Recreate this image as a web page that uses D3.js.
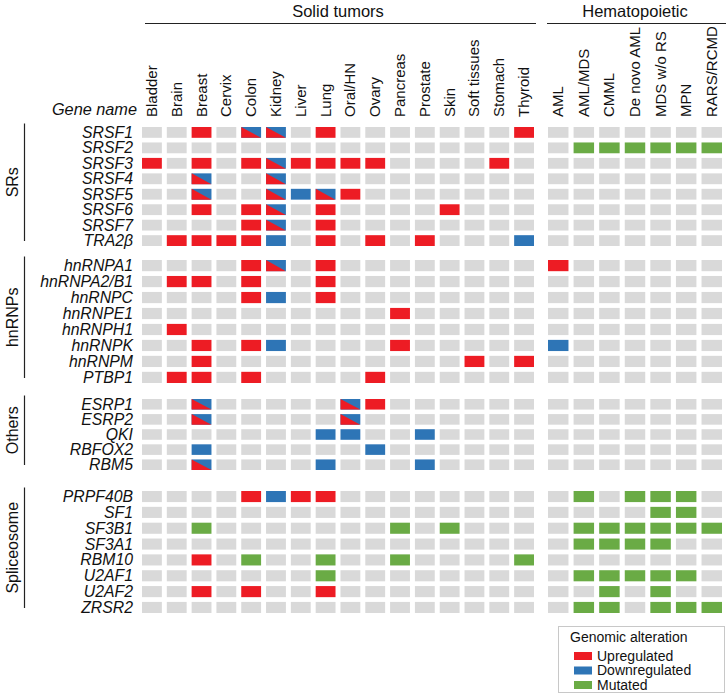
<!DOCTYPE html>
<html><head><meta charset="utf-8">
<script src="https://cdn.jsdelivr.net/npm/d3@7"></script>
<style>
html,body{margin:0;padding:0;background:#fff;}
svg{display:block;font-family:"Liberation Sans",Arial,sans-serif;}
</style></head>
<body><svg id="chart" width="728" height="697"></svg>
<script>
// ---------- DATA ----------
const solidTumors = ["Bladder","Brain","Breast","Cervix","Colon","Kidney","Liver","Lung","Oral/HN","Ovary","Pancreas","Prostate","Skin","Soft tissues","Stomach","Thyroid"];
const hemeTypes = ["AML","AML/MDS","CMML","De novo AML","MDS w/o RS","MPN","RARS/RCMD"];
const groupNames = ["SRs","hnRNPs","Others","Spliceosome"];
// codes: U = upregulated, D = downregulated, M = mutated, B = up & down, . = none
const srGenes  = ["SRSF1","SRSF2","SRSF3","SRSF4","SRSF5","SRSF6","SRSF7","TRA2\u03B2"];
const srSolid  = ["..U.BB.U.......U","................","U.U.UBUUUU....U.","..B..B..........","..B..BDBU.......","..U.UB.U....U...","....UB.U........",".UUUUD.U.U.U...D"];
const srHeme   = [".......",".MMMMMM",".......",".......",".......",".......",".......","......."];
const hnGenes  = ["hnRNPA1","hnRNPA2/B1","hnRNPC","hnRNPE1","hnRNPH1","hnRNPK","hnRNPM","PTBP1"];
const hnSolid  = ["....UB.U........",".UU.U..U........","....UD.U........","..........U.....",".U..............","..U.UD....U.....","..U..........U.U",".UU.U....U......"];
const hnHeme   = ["U......",".......",".......",".......",".......","D......",".......","......."];
const otGenes  = ["ESRP1","ESRP2","QKI","RBFOX2","RBM5"];
const otSolid  = ["..B.....BU......","..B.....B.......",".......DD..D....","..D......D......","..B....D...D...."];
const otHeme   = [".......",".......",".......",".......","......."];
const spGenes  = ["PRPF40B","SF1","SF3B1","SF3A1","RBM10","U2AF1","U2AF2","ZRSR2"];
const spSolid  = ["....UDUU........","................","..M.......M.M...","................","..U.M..M..M....M",".......M........","..U.U..U........","................"];
const spHeme   = [".M.MMM.","....MM.",".MMMMMM",".MMMM..",".......",".MMMMM.","..M.M..",".MM.MMM"];
const legendTitle = "Genomic alteration";
const legendLabels = ["Upregulated","Downregulated","Mutated"];
const legendCodes = ["U","D","M"];

// ---------- STYLE / LAYOUT ----------
const C = {gray:"#d9d9d9", U:"#ed1c24", D:"#2e75b6", M:"#6aab45"};
const groupGenes = [srGenes, hnGenes, otGenes, spGenes];
const groupSolid = [srSolid, hnSolid, otSolid, spSolid];
const groupHeme  = [srHeme, hnHeme, otHeme, spHeme];
const groupRanges = [[127,246],[260,383],[399,470],[491,613]];

const svg = d3.select("#chart");
const xSolid = d3.scaleBand().domain(solidTumors).range([142,534]).paddingInner(0.2).paddingOuter(0);
const xHeme  = d3.scaleBand().domain(hemeTypes).range([548,722]).paddingInner(0.2).paddingOuter(0);

// headers
const headers = [{t:"Solid tumors", s:xSolid, l:[145,536]},{t:"Hematopoietic", s:xHeme, l:[547,726]}];
headers.forEach(h=>{
  const r = h.s.range();
  svg.append("text").attr("x",(r[0]+r[1])/2).attr("y",17).attr("text-anchor","middle")
    .attr("font-size",16.5).attr("fill","#111").text(h.t);
  svg.append("line").attr("x1",h.l[0]).attr("x2",h.l[1]).attr("y1",23.5).attr("y2",23.5)
    .attr("stroke","#222").attr("stroke-width",1.2);
});

// column labels
function colLabels(scale){
  scale.domain().forEach(d=>{
    const cx = scale(d)+scale.bandwidth()/2 + 5;
    svg.append("text").attr("transform",`translate(${cx},117) rotate(-90)`)
      .attr("font-size",15).attr("fill","#111").text(d);
  });
}
colLabels(xSolid); colLabels(xHeme);

svg.append("text").attr("x",137).attr("y",115).attr("text-anchor","end")
  .attr("font-size",16.3).attr("font-style","italic").attr("fill","#111").text("Gene name");

function drawCell(x,y,w,h,code){
  if(code==="B"){
    svg.append("rect").attr("x",x).attr("y",y).attr("width",w).attr("height",h).attr("fill",C.D);
    svg.append("polygon").attr("points",`${x},${y} ${x+w},${y+h} ${x},${y+h}`).attr("fill",C.U);
  } else {
    svg.append("rect").attr("x",x).attr("y",y).attr("width",w).attr("height",h)
      .attr("fill", code==="." ? C.gray : C[code]);
  }
}

groupNames.forEach((g,gi)=>{
  const genes = groupGenes[gi];
  const [y0,y1] = groupRanges[gi];
  const y = d3.scaleBand().domain(genes).range([y0,y1]).paddingInner(0.3).paddingOuter(0);
  svg.append("line").attr("x1",24.5).attr("x2",24.5).attr("y1",y0-3.5).attr("y2",y1-5)
    .attr("stroke","#222").attr("stroke-width",1.2);
  const cy = (y0-3.5+y1-5)/2;
  svg.append("text").attr("transform",`translate(18,${cy}) rotate(-90)`).attr("text-anchor","middle")
    .attr("font-size",16).attr("fill","#111").text(g);
  genes.forEach((gene,ri)=>{
    const yy = y(gene), h = y.bandwidth();
    svg.append("text").attr("x",133).attr("y",yy+h/2+5.5).attr("text-anchor","end")
      .attr("font-size",15.8).attr("font-style","italic").attr("fill","#111").text(gene);
    solidTumors.forEach((t,ci)=>drawCell(xSolid(t),yy,xSolid.bandwidth(),h,groupSolid[gi][ri][ci]));
    hemeTypes.forEach((t,ci)=>drawCell(xHeme(t),yy,xHeme.bandwidth(),h,groupHeme[gi][ri][ci]));
  });
});

// legend
const lg = svg.append("g");
lg.append("rect").attr("x",558.5).attr("y",626.5).attr("width",166).attr("height",66)
  .attr("fill","#fff").attr("stroke","#c8c8c8").attr("stroke-width",1);
lg.append("text").attr("x",570).attr("y",642).attr("font-size",14).attr("fill","#111").text(legendTitle);
const ly = d3.scaleBand().domain(legendLabels).range([652,689]).paddingInner(0.448).paddingOuter(0);
legendLabels.forEach((l,i)=>{
  lg.append("rect").attr("x",574).attr("y",ly(l)).attr("width",18).attr("height",ly.bandwidth()).attr("fill",C[legendCodes[i]]);
  lg.append("text").attr("x",597).attr("y",ly(l)+9).attr("font-size",14).attr("fill","#111").text(l);
});
</script></body></html>
